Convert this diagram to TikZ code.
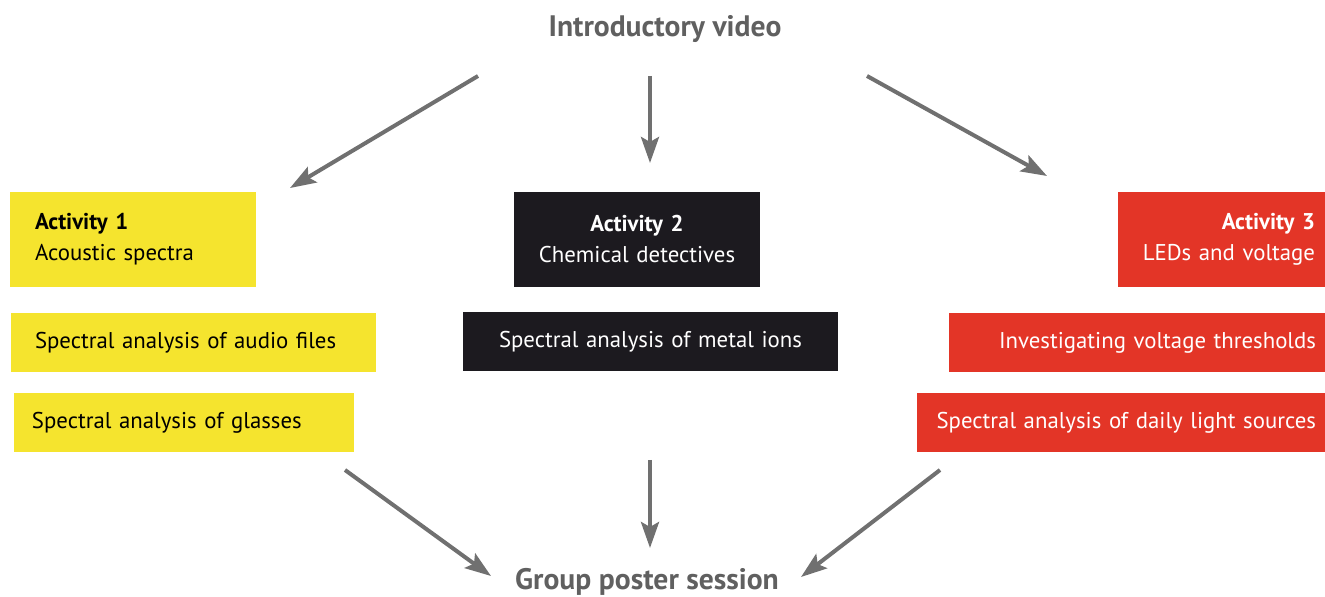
\documentclass[tikz,border=0pt]{standalone}
\usepackage{fontspec}
\setmainfont{PT Sans}
\usetikzlibrary{arrows.meta,positioning}
\definecolor{FillAct1}{RGB}{245,228,46}
\definecolor{FillAct2}{RGB}{28,26,31}
\definecolor{FillAct3}{RGB}{227,53,39}
\definecolor{ArrGray}{RGB}{112,112,112}
\definecolor{TitleGray}{RGB}{96,96,96}

\begin{document}
\begin{tikzpicture}[
    x=0.5pt, y=-0.5pt,
    box/.style={inner ysep=0pt, font=\fontsize{11.4}{15.5}\selectfont},
    head/.style={font=\fontsize{14.8}{17}\selectfont\bfseries, text=TitleGray},
    arr/.style={-{Stealth[length=13pt,width=9pt,inset=2.5pt]}, line width=2pt, draw=ArrGray}
  ]
    \useasboundingbox (0,0) rectangle (1325,597);
    % titles
    \node[head] (intro)  at (665,29)  {Introductory video};
    \node[head] (poster) at (647,582) {Group poster session};
    % activity 1
    \node[box, fill=FillAct1, minimum width=123pt, minimum height=47.5pt, inner xsep=12.5pt, text width=98pt, align=left]
        (act1) at (133,239.5) {\textbf{Activity 1}\\Acoustic spectra};
    \node[box, fill=FillAct1, minimum width=182.5pt, minimum height=29.5pt, inner xsep=12pt, text width=158.5pt, align=left]
        (audio) at (193.5,342.5) {Spectral analysis of audio files};
    \node[box, fill=FillAct1, minimum width=170pt, minimum height=29.5pt, inner xsep=9pt, text width=152pt, align=left]
        (glass) at (184,422.5) {Spectral analysis of glasses};
    % activity 2
    \node[box, fill=FillAct2, text=white, minimum width=123pt, minimum height=47.5pt, inner xsep=11.5pt, text width=100pt, align=center]
        (act2) at (637,239.5) {\textbf{Activity 2}\\Chemical detectives};
    \node[box, fill=FillAct2, text=white, minimum width=187.5pt, minimum height=29.5pt, inner xsep=15pt, text width=157.5pt, align=center]
        (ions) at (650.5,341.5) {Spectral analysis of metal ions};
    % activity 3
    \node[box, fill=FillAct3, text=white, minimum width=103.5pt, minimum height=47.5pt, inner xsep=5pt, text width=93.5pt, align=right]
        (act3) at (1221.5,239.5) {\textbf{Activity 3}\\LEDs and voltage};
    \node[box, fill=FillAct3, text=white, minimum width=188pt, minimum height=29.5pt, inner xsep=4.5pt, text width=179pt, align=right]
        (volt) at (1137,342.5) {Investigating voltage thresholds};
    \node[box, fill=FillAct3, text=white, minimum width=204pt, minimum height=29.5pt, inner xsep=4.5pt, text width=195pt, align=right]
        (light) at (1121,422.5) {Spectral analysis of daily light sources};
    % arrow ends
    \coordinate (i1) at (478,76);  \coordinate (e1) at (290,188);
    \coordinate (i2) at (650,76);  \coordinate (e2) at (650,163);
    \coordinate (i3) at (867,76);  \coordinate (e3) at (1047,176);
    \coordinate (o1) at (345,470); \coordinate (p1) at (491,576);
    \coordinate (o2) at (650,460); \coordinate (p2) at (650,548);
    \coordinate (o3) at (940,470); \coordinate (p3) at (801,577);
    \draw[arr] (i1) -- (e1);
    \draw[arr] (i2) -- (e2);
    \draw[arr] (i3) -- (e3);
    \draw[arr] (o1) -- (p1);
    \draw[arr] (o2) -- (p2);
    \draw[arr] (o3) -- (p3);
\end{tikzpicture}
\end{document}
